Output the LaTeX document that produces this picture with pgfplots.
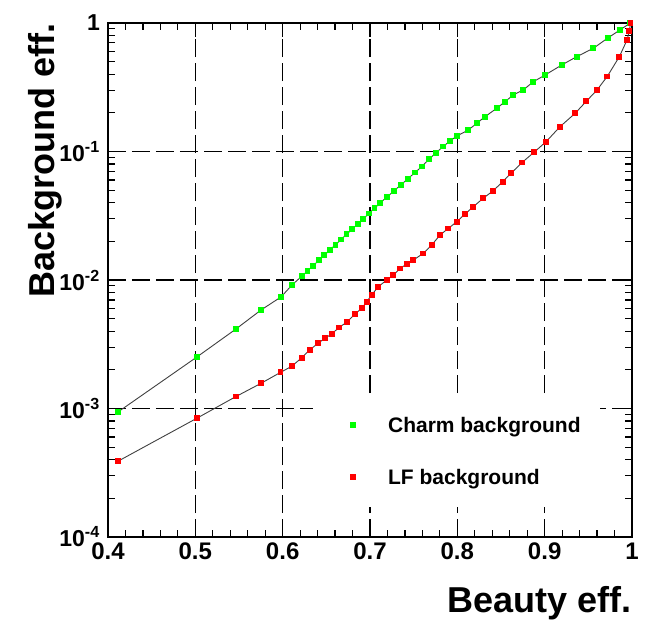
\documentclass[border=0pt]{standalone}
\usepackage{fontspec}
\setmainfont{Liberation Sans}
\usepackage{pgfplots}
\pgfplotsset{compat=1.18}
\definecolor{rgreen}{RGB}{0,255,0}
\definecolor{rred}{RGB}{255,0,0}
\pgfplotstableread{
x y
0.4115 9.40e-4
0.5019 2.52e-3
0.5466 4.16e-3
0.5752 5.84e-3
0.5981 7.38e-3
0.6107 9.14e-3
0.6221 1.074e-2
0.6285 1.180e-2
0.6349 1.294e-2
0.6413 1.422e-2
0.6477 1.560e-2
0.6541 1.714e-2
0.6604 1.879e-2
0.6668 2.065e-2
0.6732 2.265e-2
0.6796 2.489e-2
0.6860 2.735e-2
0.6924 2.999e-2
0.6988 3.296e-2
0.7051 3.614e-2
0.7115 3.972e-2
0.7195 4.426e-2
0.7275 4.943e-2
0.7355 5.508e-2
0.7435 6.152e-2
0.7515 6.855e-2
0.7595 7.656e-2
0.7676 8.710e-2
0.7756 9.772e-2
0.7836 0.1092
0.7916 0.1208
0.7996 0.1321
0.8125 0.1469
0.8222 0.1656
0.8317 0.1866
0.8451 0.2168
0.8546 0.2443
0.8641 0.2754
0.8755 0.3013
0.8870 0.3491
0.9004 0.3936
0.9195 0.4710
0.9367 0.5470
0.9557 0.6353
0.9729 0.7691
0.9863 0.8831
0.9980 1.0
}\charm
\pgfplotstableread{
x y
0.4118 3.90e-4
0.5016 8.39e-4
0.5466 1.24e-3
0.5752 1.57e-3
0.5975 1.91e-3
0.6103 2.13e-3
0.6218 2.48e-3
0.6313 2.87e-3
0.6408 3.23e-3
0.6485 3.52e-3
0.6561 3.80e-3
0.6645 4.27e-3
0.6740 4.73e-3
0.6828 5.43e-3
0.6905 6.02e-3
0.6962 6.78e-3
0.7019 7.64e-3
0.7095 8.87e-3
0.7191 1.00e-2
0.7267 1.09e-2
0.7343 1.23e-2
0.7420 1.33e-2
0.7496 1.43e-2
0.7610 1.61e-2
0.7706 1.87e-2
0.7802 2.24e-2
0.7897 2.52e-2
0.7993 2.84e-2
0.8088 3.26e-2
0.8183 3.72e-2
0.8297 4.33e-2
0.8412 4.96e-2
0.8519 5.82e-2
0.8614 6.76e-2
0.8740 8.20e-2
0.8878 9.86e-2
0.9015 0.119
0.9176 0.156
0.9348 0.198
0.9477 0.246
0.9599 0.301
0.9717 0.384
0.9855 0.547
0.9943 0.737
0.9970 0.867
0.9983 1.0
}\lf
\begin{document}
\begin{tikzpicture}
\begin{axis}[
  scale only axis, width=524bp, height=514bp,
  xmin=0.4, xmax=1, ymode=log, ymin=1e-4, ymax=1,
  clip=false,
  axis line style={line width=1.6bp},
  xtick={0.4,0.5,0.6,0.7,0.8,0.9,1},
  xticklabels={0.4,0.5,0.6,0.7,0.8,0.9,1},
  minor x tick num=4,
  ytick={1e-4,1e-3,1e-2,1e-1,1},
  yticklabels={10\textsuperscript{-4},10\textsuperscript{-3},10\textsuperscript{-2},10\textsuperscript{-1},1},
  tick align=inside,
  major tick length=14bp, minor tick length=7bp,
  tick style={black, line width=1.2bp},
  grid=major,
  major grid style={black, line width=1.5bp, dash pattern=on 18bp off 6bp},
  xticklabel style={font=\fontsize{24bp}{28bp}\selectfont\bfseries, inner sep=0pt, anchor=north, yshift=-6bp},
  yticklabel style={font=\fontsize{23bp}{27bp}\selectfont\bfseries, inner sep=0pt, anchor=east, xshift=-8bp},
  xlabel={Beauty eff.},
  ylabel={Background eff.},
  xlabel style={font=\fontsize{36bp}{42bp}\selectfont\bfseries, at={(rel axis cs:1,-0.1459)}, anchor=base east, inner sep=0pt},
  ylabel style={font=\fontsize{36bp}{42bp}\selectfont\bfseries, at={(rel axis cs:-0.103,1.0)}, anchor=base east, inner sep=0pt},
  legend style={at={(rel axis cs:0.3912,0.2704)}, anchor=north west, draw=none, fill=white,
    inner xsep=19bp, inner ysep=18bp, font=\fontsize{21bp}{25bp}\selectfont\bfseries,
    nodes={inner sep=0pt, text height=16bp, text depth=5bp},
    cells={anchor=base west},
    row sep=31bp, column sep=33bp},
  legend image code/.code={\path (-20bp,0bp) (2bp,0bp); \draw[#1] plot coordinates {(0bp,7bp)};},
]
\coordinate (O) at (rel axis cs:0,0);
\addplot[black!75, line width=0.9bp, mark=square*, mark size=2.4bp,
  mark options={draw=rgreen, fill=rgreen, line width=0pt, solid}] table[x=x,y=y] {\charm};
\addlegendentry{Charm background}
\addplot[black!75, line width=0.9bp, mark=square*, mark size=2.4bp,
  mark options={draw=rred, fill=rred, line width=0pt, solid}] table[x=x,y=y] {\lf};
\addlegendentry{LF background}
\end{axis}
\pgfresetboundingbox
\path[use as bounding box] (O) ++(-108bp,-84bp) rectangle ++(647bp,621bp);
\end{tikzpicture}
\end{document}
